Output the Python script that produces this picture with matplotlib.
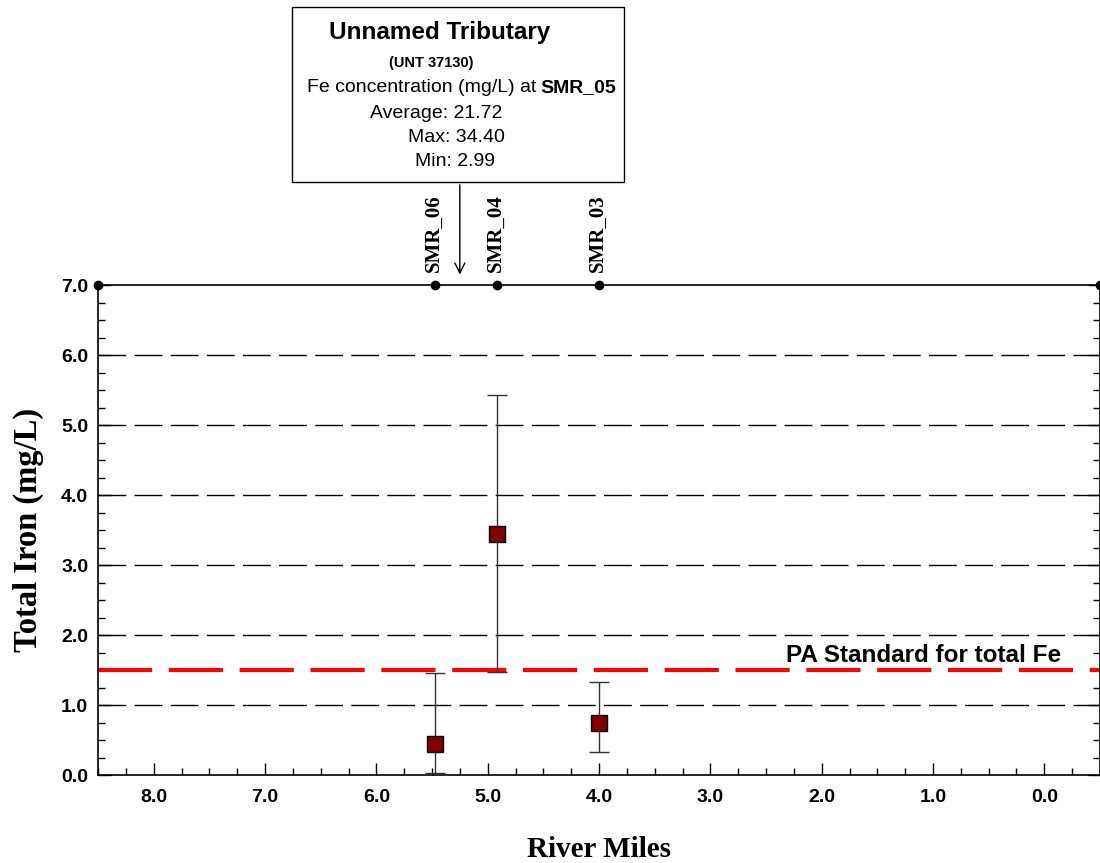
import matplotlib.pyplot as plt
from matplotlib.patches import Rectangle
from matplotlib.ticker import MultipleLocator, FormatStrFormatter

# sampling sites along the river
site_names = ["SMR_06", "SMR_04", "SMR_03"]
site_miles = [5.47, 4.92, 4.0]
fe_mean = [0.44, 3.45, 0.74]
fe_min = [0.03, 1.47, 0.33]
fe_max = [1.46, 5.43, 1.33]

pa_standard = 1.5
trib_mile = 5.25
trib_lines = ["Average: 21.72", "Max: 34.40", "Min: 2.99"]

sans = "Liberation Sans"
serif = "Liberation Serif"

fig = plt.figure(figsize=(11, 8.63), dpi=100)
ax = fig.add_axes([98 / 1100, 1 - 775 / 863, 1002 / 1100, 490 / 863])

ax.set_xlim(8.5, -0.5)
ax.set_ylim(0, 7)

# grid lines
for g in range(1, 7):
    ax.axhline(g, color="black", lw=1.0, dashes=(20, 6), zorder=1)

# PA standard
ax.axhline(pa_standard, color="red", lw=3, dashes=(13, 4), zorder=2)
ax.text(-0.15, 1.61, "PA Standard for total Fe", ha="right", va="baseline",
        fontsize=17.5, fontweight="bold", family=sans)

# error bars and means
lower = [m - lo for m, lo in zip(fe_mean, fe_min)]
upper = [hi - m for m, hi in zip(fe_mean, fe_max)]
ax.errorbar(site_miles, fe_mean, yerr=[lower, upper], fmt="s", color="#333333", ecolor="#333333",
            elinewidth=1.0, capsize=7, capthick=1.2, markersize=11, markerfacecolor="#800000",
            markeredgecolor="black", markeredgewidth=1.0, zorder=4)

# top line with site markers
ax.plot([8.5] + site_miles + [-0.5], [7] * 5, "o", color="black", markersize=6,
        clip_on=False, zorder=5)
for name, mile in zip(site_names, site_miles):
    ax.text(mile + 0.01, 7.19, name, rotation=90, ha="center", va="bottom", fontsize=15,
            fontweight="bold", family=serif)

# ticks
ax.xaxis.set_major_locator(MultipleLocator(1))
ax.xaxis.set_minor_locator(MultipleLocator(0.25))
ax.yaxis.set_major_locator(MultipleLocator(1))
ax.yaxis.set_minor_locator(MultipleLocator(0.25))
ax.xaxis.set_major_formatter(FormatStrFormatter("%.1f"))
ax.yaxis.set_major_formatter(FormatStrFormatter("%.1f"))
ax.tick_params(which="both", direction="in", top=False, right=True, width=1)
ax.tick_params(which="major", length=9)
ax.tick_params(which="minor", length=5)
ax.tick_params(axis="x", which="major", pad=10)
ax.tick_params(axis="y", which="major", pad=7)
for lab in ax.get_xticklabels() + ax.get_yticklabels():
    lab.set_fontweight("bold")
    lab.set_fontfamily(sans)
    lab.set_fontsize(14)
for sp in ax.spines.values():
    sp.set_linewidth(1.2)

ax.set_ylabel("Total Iron (mg/L)", fontsize=23.5, fontweight="bold", family=serif, labelpad=12)
ax.set_xlabel("River Miles", fontsize=21, fontweight="bold", family=serif, labelpad=22)

# tributary box
fig.patches.append(Rectangle((292 / 1100, 1 - 182 / 863), 332 / 1100, 175 / 863,
                             transform=fig.transFigure, fill=False, edgecolor="black", lw=1))
fig.text(440 / 1100, 1 - 32 / 863, "Unnamed Tributary", ha="center", va="center",
         fontsize=17.5, fontweight="bold", family=sans)
fig.text(431 / 1100, 1 - 63 / 863, "(UNT 37130)", ha="center", va="center",
         fontsize=10.5, fontweight="bold", family=sans)
fig.text(536 / 1100, 1 - 88 / 863, "Fe concentration (mg/L) at", ha="right", va="center",
         fontsize=14, family=sans)
fig.text(540 / 1100, 1 - 88 / 863, "SMR_05", ha="left", va="center",
         fontsize=14, fontweight="bold", family=sans)
fig.text(436 / 1100, 1 - 113 / 863, trib_lines[0], ha="center", va="center", fontsize=14, family=sans)
fig.text(456 / 1100, 1 - 137 / 863, trib_lines[1], ha="center", va="center", fontsize=14, family=sans)
fig.text(455 / 1100, 1 - 161 / 863, trib_lines[2], ha="center", va="center", fontsize=14, family=sans)

ax.annotate("", xy=(trib_mile, 7.11), xycoords="data",
            xytext=(trib_mile, 7 + (285 - 182) / 70), textcoords="data",
            arrowprops=dict(arrowstyle="->", color="black", lw=1, mutation_scale=18),
            annotation_clip=False)

fig.savefig("out.png", dpi=100)
